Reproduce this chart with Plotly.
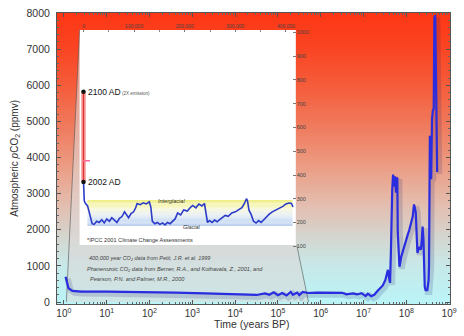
import plotly.graph_objects as go

# ---------------- data ----------------
# Main (Phanerozoic + recent) record: log10(age in years BP) and pCO2 (ppmv)
phan_log10_age = [0.04, 0.07, 0.11, 0.2, 0.4, 1.0, 2.0, 2.6, 3.3, 3.9, 4.3, 4.5, 4.7, 4.8,
                  4.9, 5.0, 5.1, 5.2, 5.3, 5.35, 5.45, 5.5, 5.58, 5.7, 5.9, 6.2, 6.5, 6.6,
                  6.75, 6.85, 6.95, 7.05, 7.1, 7.18, 7.25, 7.32, 7.38, 7.45, 7.51, 7.55,
                  7.57, 7.60, 7.62, 7.64, 7.65, 7.67, 7.69, 7.71, 7.73, 7.75, 7.76, 7.78,
                  7.79, 7.80, 7.82, 7.84, 7.86, 7.88, 7.93, 7.99, 8.03, 8.07, 8.12, 8.15,
                  8.17, 8.18, 8.20, 8.22, 8.24, 8.26, 8.30, 8.34, 8.36, 8.38, 8.40, 8.42,
                  8.43, 8.45, 8.49, 8.52, 8.53, 8.55, 8.57, 8.58, 8.59, 8.60, 8.62, 8.64,
                  8.655, 8.675, 8.69, 8.70, 8.71, 8.72]
phan_co2 = [700, 520, 380, 310, 290, 285, 275, 260, 240, 215, 200, 195, 240, 200,
            270, 190, 250, 180, 280, 200, 260, 190, 280, 250, 260, 265, 255, 215,
            240, 210, 245, 165, 230, 160, 200, 300, 380, 460, 610, 760,
            890, 650, 530, 1400, 2470, 3100, 3530, 3200, 3480, 3150, 3030, 3450,
            3400, 1920, 1200, 975, 1100, 1250, 1450, 1730, 1850, 2000, 2200, 2370,
            2600, 2700, 2600, 2480, 1900, 1360, 1530, 1450, 1700, 2090, 1730, 900,
            420, 330, 330, 600, 975, 4600, 4300, 3400, 4600, 5070, 5300, 5350,
            7860, 7940, 6500, 5350, 4500, 3600]

# 400,000 year (Vostok) record for the inset: age (years BP), CO2 (ppmv)
vostok_age = [0, 1500, 4000, 8000, 11000, 14000, 17000, 21000, 26000, 31000, 36000, 41000,
              46000, 51000, 56000, 61000, 66000, 71000, 76000, 81000, 85000, 89000, 94000,
              99000, 103000, 106000, 112000, 118000, 124000, 130000, 133000, 136000, 141000,
              146000, 151000, 156000, 161000, 166000, 171000, 176000, 181000, 186000, 192000,
              198000, 205000, 212000, 216000, 222000, 228000, 234000, 239000, 242000, 245000,
              249000, 254000, 259000, 264000, 269000, 274000, 280000, 286000, 293000, 300000,
              307000, 313000, 318000, 322000, 324000, 327000, 331000, 336000, 341000, 346000,
              351000, 356000, 361000, 367000, 373000, 380000, 387000, 394000, 400000, 406000,
              411000, 414000]
vostok_co2 = [370, 290, 280, 270, 245, 215, 195, 192, 205, 200, 212, 198,
              215, 205, 220, 210, 200, 218, 225, 245, 230, 220, 238,
              245, 262, 280, 275, 283, 278, 287, 265, 205, 195,
              200, 192, 198, 190, 200, 195, 205, 215, 240, 232,
              253, 248, 265, 272, 262, 278, 270, 280, 240, 200,
              208, 200, 210, 203, 212, 222, 230, 226, 240, 245,
              255, 262, 280, 300, 292, 252, 235, 205, 198, 208,
              200, 212, 222, 235, 245, 252, 262, 268, 278, 282,
              280, 265]

# IPCC points
ipcc_age = [-98, 0]
ipcc_co2 = [750, 370]
marker_age = [5800]
marker_co2 = [460]

main_xticks = [10 ** k for k in range(10)]
main_xtext = ["10<sup>%d</sup>" % k for k in range(10)]
main_yticks = list(range(0, 8001, 1000))
inset_xticks = [0, 100000, 200000, 300000, 400000]
inset_xtext = ["0", "100,000", "200,000", "300,000", "400,000"]
inset_yticks = list(range(100, 1001, 100))

# ---------------- layout geometry ----------------
W, H = 464, 336
L, R, T, B = 57, 7, 13, 32
PW, PH = W - L - R, H - T - B


def pxx(px):
    return (px - L) / PW


def pxy(py):
    return (T + PH - py) / PH


FONT = "Liberation Sans, Arial, sans-serif"
phan_age = [10 ** v for v in phan_log10_age]

fig = go.Figure()

# soft shadow of main curve
fig.add_trace(go.Scatter(x=[a * 1.12 for a in phan_age], y=[c - 55 for c in phan_co2],
                         mode="lines", line=dict(color="rgba(30,30,110,0.16)", width=6),
                         hoverinfo="skip", showlegend=False))
fig.add_trace(go.Scatter(x=phan_age, y=phan_co2, mode="lines",
                         line=dict(color="#2a2ce0", width=2.2), showlegend=False))

# inset traces
fig.add_trace(go.Scatter(x=ipcc_age, y=ipcc_co2, xaxis="x2", yaxis="y2", mode="lines",
                         line=dict(color="rgba(240,110,110,0.55)", width=5), showlegend=False))
fig.add_trace(go.Scatter(x=ipcc_age, y=ipcc_co2, xaxis="x2", yaxis="y2", mode="lines",
                         line=dict(color="#e03030", width=1.5), showlegend=False))
fig.add_trace(go.Scatter(x=vostok_age, y=vostok_co2, xaxis="x2", yaxis="y2", mode="lines",
                         line=dict(color="#2c3cc8", width=1.6), showlegend=False))
fig.add_trace(go.Scatter(x=ipcc_age, y=ipcc_co2, xaxis="x2", yaxis="y2", mode="markers",
                         marker=dict(color="#111", size=4.5), showlegend=False))
fig.add_trace(go.Scatter(x=marker_age, y=marker_co2, xaxis="x2", yaxis="y2", mode="markers",
                         marker=dict(symbol="line-ew-open", size=5, line=dict(color="#222", width=1.3)),
                         showlegend=False))

shapes = []


def lerp(c1, c2, f):
    return tuple(c1[i] + (c2[i] - c1[i]) * f for i in range(3))


stops = [(13, (255, 55, 22)), (50, (250, 70, 36)), (90, (245, 96, 62)), (130, (240, 126, 97)),
         (170, (235, 160, 136)), (205, (228, 190, 176)), (235, (214, 212, 206)),
         (265, (200, 232, 232)), (304, (186, 245, 248))]


def grad_color(py):
    for (p1, c1), (p2, c2) in zip(stops[:-1], stops[1:]):
        if p1 <= py <= p2:
            c = lerp(c1, c2, (py - p1) / (p2 - p1))
            return "rgb(%d,%d,%d)" % c
    return "rgb(%d,%d,%d)" % stops[-1][1]


py = 13
while py < 304:
    shapes.append(dict(type="rect", xref="paper", yref="paper", layer="below",
                       x0=0, x1=1, y0=pxy(min(py + 3.5, 304)), y1=pxy(py),
                       fillcolor=grad_color(py + 1.5), line=dict(width=0)))
    py += 3

# zoom wedge overlay
wedge = [(80, 30), (66.5, 302), (313, 302), (300, 245), (300, 30)]
path = "M " + " L ".join("%f,%f" % (pxx(a), pxy(b)) for a, b in wedge) + " Z"
shapes.append(dict(type="path", xref="paper", yref="paper", layer="below", path=path,
                   fillcolor="rgba(222,216,216,0.55)", line=dict(width=0)))
# inset white box
shapes.append(dict(type="rect", xref="paper", yref="paper", layer="below",
                   x0=pxx(80), x1=pxx(300), y0=pxy(245), y1=pxy(30),
                   fillcolor="white", line=dict(width=0)))
# connector lines
for (a0, b0), (a1, b1) in [((80, 30), (66.5, 302)), ((301, 245), (313, 302))]:
    shapes.append(dict(type="line", xref="paper", yref="paper", layer="below",
                       x0=pxx(a0), y0=pxy(b0), x1=pxx(a1), y1=pxy(b1),
                       line=dict(color="rgba(80,80,80,0.75)", width=0.8)))

# interglacial / glacial bands in inset
band_stops = [(295, (238, 238, 130)), (265, (248, 248, 200)), (240, (240, 244, 240)),
              (215, (214, 228, 246)), (185, (188, 210, 240))]
v = 295.0
while v > 185:
    for (v1, c1), (v2, c2) in zip(band_stops[:-1], band_stops[1:]):
        if v2 <= v - 2.5 <= v1:
            c = lerp(c1, c2, (v1 - (v - 2.5)) / (v1 - v2))
            break
    shapes.append(dict(type="rect", xref="x2", yref="y2", layer="below",
                       x0=7800, x1=413000, y0=max(v - 5.5, 185), y1=v,
                       fillcolor="rgb(%d,%d,%d)" % c, line=dict(width=0)))
    v -= 5

annotations = []


def txt(text, px, py, size, color="#222", xanchor="left", italic=False, angle=0):
    annotations.append(dict(text=("<i>%s</i>" % text) if italic else text,
                            x=pxx(px), y=pxy(py), xref="paper", yref="paper",
                            xanchor=xanchor, yanchor="middle", showarrow=False,
                            textangle=angle, font=dict(family=FONT, size=size, color=color)))


txt("2100 AD", 86.5, 92, 8.5, "#111")
txt("(2X emission)", 121.5, 93, 4.5, "#555")
txt("2002 AD", 86.5, 182, 8.5, "#111")
txt("Interglacial", 158, 201, 5.5, "#333", italic=True)
txt("Glacial", 183, 226.5, 5.5, "#333", italic=True)
txt("*IPCC 2001 Climate Change Assessments", 86, 240, 5.6, "#333")
txt("400,000 year CO<sub>2</sub> data from Petit, J.R. et al. 1999", 88, 258, 5.5, "#444", italic=True)
txt("Phanerozoic CO<sub>2</sub> data from Berner, R.A., and Kothavala, Z., 2001, and", 85, 269.5, 5.6, "#444", italic=True)
txt("Pearson, P.N. and Palmer, M.R., 2000", 89, 279, 5.6, "#444", italic=True)
txt("Time (years BP)", 255, 324, 10.5, "#333", xanchor="center")
txt("Atmospheric <i>p</i>CO<sub>2</sub> (ppmv)", 14, 158, 10, "#333", xanchor="center", angle=-90)

minor_x = [k * 10 ** n for n in range(0, 9) for k in range(2, 10)]

fig.update_layout(
    width=W, height=H, margin=dict(l=L, r=R, t=T, b=B),
    paper_bgcolor="white", plot_bgcolor="rgba(0,0,0,0)",
    showlegend=False, shapes=shapes, annotations=annotations,
    font=dict(family=FONT, color="#333"),
    xaxis=dict(type="log", range=[-0.16, 9.02], tickmode="array", tickvals=main_xticks,
               ticktext=main_xtext, ticks="inside", ticklen=4, tickcolor="#555",
               showline=True, linecolor="#555", linewidth=1, mirror="ticks",
               showgrid=False, zeroline=False, tickfont=dict(size=10, color="#333"),
               minor=dict(tickmode="array", tickvals=minor_x, ticks="inside", ticklen=2,
                          tickcolor="#666", showgrid=False)),
    yaxis=dict(range=[-55, 8000], tickmode="array", tickvals=main_yticks, ticks="inside",
               ticklen=4, tickcolor="#555", showline=True, linecolor="#555", linewidth=1,
               mirror="ticks", showgrid=False, zeroline=False,
               tickfont=dict(size=10.5, color="#333"), ticklabelstandoff=4,
               minor=dict(dtick=200, ticks="inside", ticklen=2, tickcolor="#666",
                          showgrid=False)),
    xaxis2=dict(domain=[pxx(80), pxx(300)], range=[-7767, 419417], anchor="y2", side="top",
                tickmode="array", tickvals=inset_xticks, ticktext=inset_xtext,
                ticks="inside", ticklen=2, tickcolor="#777", showline=False,
                showgrid=False, zeroline=False, tickfont=dict(size=5, color="#444"),
                minor=dict(dtick=50000, ticks="inside", ticklen=2, tickcolor="#888",
                           showgrid=False)),
    yaxis2=dict(domain=[pxy(250), pxy(30)], range=[84.2, 1010.5], anchor="x2", side="right",
                tickmode="array", tickvals=inset_yticks, ticks="inside", ticklen=3,
                tickcolor="#777", showline=False, showgrid=False, zeroline=False,
                tickfont=dict(size=5.5, color="#444")),
)

fig.write_html("out.html")
